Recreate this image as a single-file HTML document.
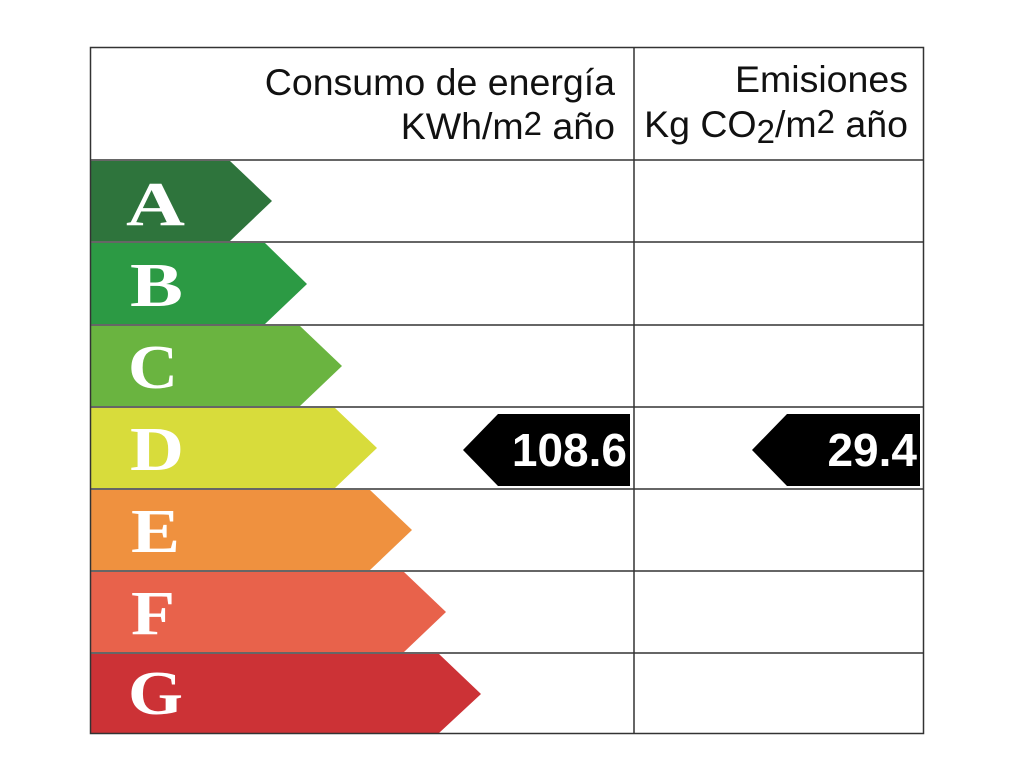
<!DOCTYPE html>
<html><head><meta charset="utf-8"><style>
html,body{margin:0;padding:0;background:#fff;}
svg{display:block}
</style></head><body>
<svg width="1020" height="765" viewBox="0 0 1020 765" xmlns="http://www.w3.org/2000/svg">
<rect x="0" y="0" width="1020" height="765" fill="#fff"/>
<polygon points="91,161 230,161 272,201 230,241 91,241" fill="#2e743c"/>
<polygon points="91,243 265,243 307,284 265,324 91,324" fill="#2c9a44"/>
<polygon points="91,326 300,326 342,366 300,406 91,406" fill="#6ab440"/>
<polygon points="91,408 335,408 377,448 335,488 91,488" fill="#d8dc3b"/>
<polygon points="91,490 370,490 412,530 370,570 91,570" fill="#ef913f"/>
<polygon points="91,572 404,572 446,612 404,652 91,652" fill="#e8624b"/>
<polygon points="91,654 439,654 481,694 439,733 91,733" fill="#cc3236"/>
<g font-family="Liberation Serif, serif" font-weight="bold" font-size="62" fill="#fff">
<text x="126" y="225" textLength="59" lengthAdjust="spacingAndGlyphs">A</text>
<text x="130" y="306" textLength="53" lengthAdjust="spacingAndGlyphs">B</text>
<text x="128" y="388" textLength="50" lengthAdjust="spacingAndGlyphs">C</text>
<text x="130" y="470" textLength="54" lengthAdjust="spacingAndGlyphs">D</text>
<text x="131" y="552" textLength="49" lengthAdjust="spacingAndGlyphs">E</text>
<text x="131" y="634" textLength="44" lengthAdjust="spacingAndGlyphs">F</text>
<text x="128" y="714" textLength="55" lengthAdjust="spacingAndGlyphs">G</text>
</g>
<g stroke="#333" stroke-width="1.5" fill="none">
<rect x="90.5" y="47.5" width="833" height="686"/>
<line x1="634" y1="47" x2="634" y2="734"/>
<line x1="90" y1="160" x2="924" y2="160"/>
<line x1="90" y1="242" x2="924" y2="242"/>
<line x1="90" y1="325" x2="924" y2="325"/>
<line x1="90" y1="407" x2="924" y2="407"/>
<line x1="90" y1="489" x2="924" y2="489"/>
<line x1="90" y1="571" x2="924" y2="571"/>
<line x1="90" y1="653" x2="924" y2="653"/>
</g>
<polygon points="463,450 498,414 630,414 630,486 498,486" fill="#000"/>
<polygon points="752,450 787,414 920,414 920,486 787,486" fill="#000"/>
<g font-family="Liberation Sans, sans-serif" font-weight="bold" font-size="46" fill="#fff" text-anchor="end">
<text x="627" y="466">108.6</text>
<text x="917" y="466">29.4</text>
</g>
<g font-family="Liberation Sans, sans-serif" font-size="37.5" fill="#111" text-anchor="end">
<text x="615" y="95">Consumo de energía</text>
<text x="615" y="139">KWh/m<tspan font-size="33" dy="-4">2</tspan><tspan dy="4"> año</tspan></text>
<text x="908" y="92">Emisiones</text>
<text x="908" y="137">Kg CO<tspan font-size="33" dy="6">2</tspan><tspan dy="-6">/m</tspan><tspan font-size="33" dy="-4">2</tspan><tspan dy="4"> año</tspan></text>
</g>
</svg>
</body></html>
